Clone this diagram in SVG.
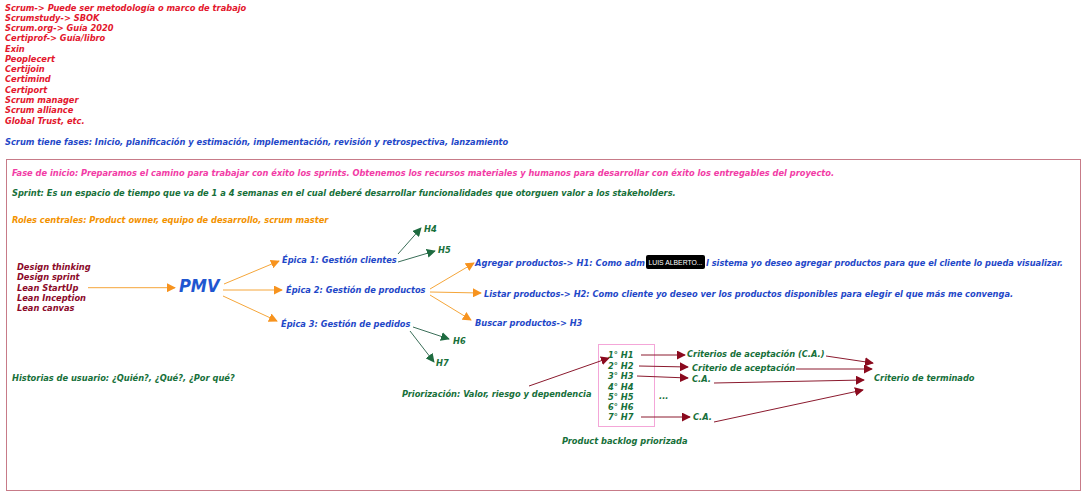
<svg xmlns="http://www.w3.org/2000/svg" width="1084" height="492" viewBox="0 0 1084 492">
<style>
text{font-family:"DejaVu Sans Condensed","DejaVu Sans",sans-serif;font-size:9.2px;font-weight:bold;font-style:italic}
.r{fill:#e3172d}.b{fill:#1f48c8}.p{fill:#f23ca6}.g{fill:#17703a}.o{fill:#f39200}.dr{fill:#8b0a2a}
.pmv{font-size:18px;fill:#1f56d0}
.tip{font-family:"Liberation Sans",sans-serif;font-style:normal;font-weight:normal;font-size:8px;fill:#fff}
.ao{stroke:#f5a63a;stroke-width:1;fill:none;marker-end:url(#mo)}
.ag{stroke:#3a6e58;stroke-width:1;fill:none;marker-end:url(#mg)}
.ar{stroke:#8b1a2e;stroke-width:1;fill:none;marker-end:url(#mr)}
</style>
<defs>
<marker id="mo" viewBox="0 0 10 10" refX="9" refY="5" markerWidth="9" markerHeight="9" markerUnits="userSpaceOnUse" orient="auto"><path d="M0,0L10,5L0,10z" fill="#f7931e"/></marker>
<marker id="mg" viewBox="0 0 10 10" refX="9" refY="5" markerWidth="9" markerHeight="9" markerUnits="userSpaceOnUse" orient="auto"><path d="M0,0L10,5L0,10z" fill="#1e6b40"/></marker>
<marker id="mr" viewBox="0 0 10 10" refX="9" refY="5" markerWidth="9" markerHeight="9" markerUnits="userSpaceOnUse" orient="auto"><path d="M0,0L10,5L0,10z" fill="#8b0a1e"/></marker>
</defs>
<rect width="1084" height="492" fill="#fff"/>
<g id="cert-list">
<text class="r" x="5" y="10.5">Scrum-&gt; Puede ser metodología o marco de trabajo</text>
<text class="r" x="5" y="20.8">Scrumstudy-&gt; SBOK</text>
<text class="r" x="5" y="31">Scrum.org-&gt; Guía 2020</text>
<text class="r" x="5" y="41.3">Certiprof-&gt; Guía/libro</text>
<text class="r" x="5" y="51.6">Exin</text>
<text class="r" x="5" y="61.9">Peoplecert</text>
<text class="r" x="5" y="72.1">Certijoin</text>
<text class="r" x="5" y="82.4">Certimind</text>
<text class="r" x="5" y="92.7">Certiport</text>
<text class="r" x="5" y="103">Scrum manager</text>
<text class="r" x="5" y="113.2">Scrum alliance</text>
<text class="r" x="5" y="123.5">Global Trust, etc.</text>
</g>
<g id="fases"><text class="b" x="5" y="145">Scrum tiene fases: Inicio, planificación y estimación, implementación, revisión y retrospectiva, lanzamiento</text></g>
<g id="frame">
<rect x="6.5" y="159.5" width="1074" height="331" fill="none" stroke="#c77b88" stroke-width="1"/>
</g>
<g id="fase-inicio"><text class="p" x="12" y="175.5">Fase de inicio: Preparamos el camino para trabajar con éxito los sprints. Obtenemos los recursos materiales y humanos para desarrollar con éxito los entregables del proyecto.</text></g>
<g id="sprint"><text class="g" x="12" y="196">Sprint: Es un espacio de tiempo que va de 1 a 4 semanas en el cual deberé desarrollar funcionalidades que otorguen valor a los stakeholders.</text></g>
<g id="roles"><text class="o" x="12" y="222.5">Roles centrales: Product owner, equipo de desarrollo, scrum master</text></g>
<g id="metodos">
<text class="dr" x="17" y="270">Design thinking</text>
<text class="dr" x="17" y="280.3">Design sprint</text>
<text class="dr" x="17" y="290.6">Lean StartUp</text>
<text class="dr" x="17" y="300.9">Lean Inception</text>
<text class="dr" x="17" y="311.2">Lean canvas</text>
</g>
<g id="pmv"><text class="pmv" x="179" y="292">PMV</text></g>
<g id="epica1"><text class="b" x="282" y="262.5">Épica 1: Gestión clientes</text></g>
<g id="epica2"><text class="b" x="286" y="292.5">Épica 2: Gestión de productos</text></g>
<g id="epica3"><text class="b" x="281" y="326.5">Épica 3: Gestión de pedidos</text></g>
<g id="h4"><text class="g" x="424" y="231.5">H4</text></g>
<g id="h5"><text class="g" x="438" y="252.5">H5</text></g>
<g id="h6"><text class="g" x="453" y="343.5">H6</text></g>
<g id="h7"><text class="g" x="436" y="365.5">H7</text></g>
<g id="agregar">
<text class="b" x="475" y="265.5" textLength="170" lengthAdjust="spacingAndGlyphs">Agregar productos-&gt; H1: Como adm</text>
<text class="b" x="706" y="265.5" textLength="357" lengthAdjust="spacingAndGlyphs">l sistema yo deseo agregar productos para que el cliente lo pueda visualizar.</text>
</g>
<g id="tooltip"><rect x="646" y="255" width="59" height="14" rx="2" fill="#000"/><text class="tip" x="648.5" y="265" textLength="54" lengthAdjust="spacingAndGlyphs">LUIS ALBERTO...</text></g>
<g id="listar"><text class="b" x="484" y="296.5">Listar productos-&gt; H2: Como cliente yo deseo ver los productos disponibles para elegir el que más me convenga.</text></g>
<g id="buscar"><text class="b" x="475" y="325.5">Buscar productos-&gt; H3</text></g>
<g id="historias"><text class="g" x="12" y="380.5">Historias de usuario: ¿Quién?, ¿Qué?, ¿Por qué?</text></g>
<g id="priorizacion"><text class="g" x="402" y="396.5">Priorización: Valor, riesgo y dependencia</text></g>
<g id="backlog">
<rect x="598.5" y="344.5" width="56" height="82" fill="none" stroke="#f4a6d8" stroke-width="1"/>
<text class="g" x="608" y="358.3">1° H1</text>
<text class="g" x="608" y="369">2° H2</text>
<text class="g" x="608" y="379.3">3° H3</text>
<text class="g" x="608" y="389.6">4° H4</text>
<text class="g" x="608" y="400">5° H5</text>
<text class="g" x="608" y="410.3">6° H6</text>
<text class="g" x="608" y="420.3">7° H7</text>
</g>
<g id="ellipsis"><text class="g" x="659" y="398.5">...</text></g>
<g id="backlog-label"><text class="g" x="562" y="443.5">Product backlog priorizada</text></g>
<g id="ca1"><text class="g" x="687" y="356.5">Criterios de aceptación (C.A.)</text></g>
<g id="ca2"><text class="g" x="692" y="371">Criterio de aceptación</text></g>
<g id="ca3"><text class="g" x="692" y="382">C.A.</text></g>
<g id="ca7"><text class="g" x="693" y="420">C.A.</text></g>
<g id="terminado"><text class="g" x="874" y="380.5">Criterio de terminado</text></g>
<g id="connectors">
<line class="ao" x1="88" y1="287.7" x2="175" y2="287.7"/>
<line class="ao" x1="224" y1="284" x2="279" y2="261"/>
<line class="ao" x1="223" y1="290" x2="282" y2="290"/>
<line class="ao" x1="223" y1="296" x2="277" y2="321"/>
<line class="ag" x1="398" y1="254" x2="421" y2="228"/>
<line class="ag" x1="398" y1="262" x2="435" y2="251"/>
<line class="ag" x1="413" y1="327" x2="449" y2="339"/>
<line class="ag" x1="410" y1="331" x2="434" y2="362"/>
<line class="ao" x1="430" y1="289" x2="474" y2="263"/>
<line class="ao" x1="430" y1="292" x2="481" y2="293"/>
<line class="ao" x1="430" y1="295" x2="471" y2="320"/>
<line class="ar" x1="529" y1="386" x2="609" y2="358"/>
<line class="ar" x1="641" y1="355" x2="685" y2="355"/>
<line class="ar" x1="639" y1="366" x2="688" y2="367"/>
<line class="ar" x1="637" y1="376" x2="688" y2="378"/>
<line class="ar" x1="641" y1="417" x2="690" y2="417"/>
<line class="ar" x1="826" y1="356" x2="873" y2="363"/>
<line class="ar" x1="796" y1="369" x2="872" y2="369"/>
<line class="ar" x1="714" y1="383" x2="864" y2="380"/>
<line class="ar" x1="714" y1="422" x2="863" y2="390"/>
</g>
</svg>
